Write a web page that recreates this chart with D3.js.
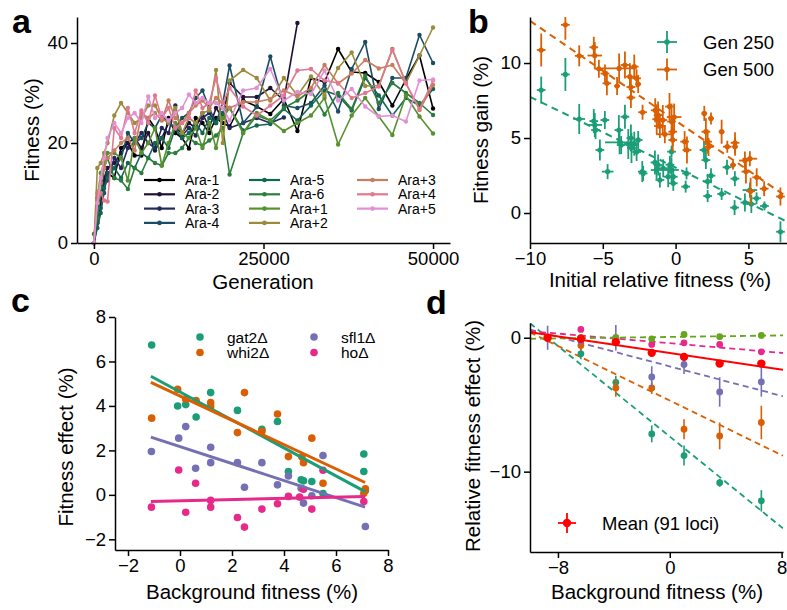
<!DOCTYPE html>
<html>
<head>
<meta charset="utf-8">
<script src="https://cdn.jsdelivr.net/npm/d3@7"></script>
<style>
  body { margin: 0; background: #fff; }
  text { font-family: "Liberation Sans", Arial, sans-serif; }
</style>
</head>
<body>
<script>
// ---- panel a: LTEE fitness trajectories ----
const generations = [0, 500, 1000, 1500, 2000, 3000, 4000, 5000, 6000, 7000, 8000, 9000, 10000,
  11000, 12000, 13000, 14000, 15000, 16000, 17000, 18000, 19000, 20000, 22000, 24000, 26000,
  28000, 30000, 32000, 34000, 36000, 38000, 40000, 42000, 44000, 46000, 48000, 50000];
const popNames = ["Ara-1", "Ara-2", "Ara-3", "Ara-4", "Ara-5", "Ara-6", "Ara+1", "Ara+2", "Ara+3", "Ara+4", "Ara+5"];
const popColors = ["#000000", "#1f1236", "#22295b", "#1b4d62", "#136554", "#2a7d3c", "#56912f", "#9a8b3d", "#c77d5e", "#e1788f", "#e290d6"];
const araM1 = [0,4,8,12,14,13,19,20,17.5,17.5,25,23,19,25,22,21,18.9,25,24,22,25,24,23.3,28.5,27.3,25.8,28.8,22.4,33,32.2,38.8,34.2,34,32.2,27.5,32.7,37.5,26.9];
const araM2 = [0,5,9,13,15,16,18,20,21,19,22,18.5,21,24,23,22,24,23,26,23,27,25,32,29.2,29.2,31,28.5,44];
const araM3 = [0,6,10,12,12.5,17,15,19,20,22,20,19,23,22,27.5,21.5,23,21.5,25,26,24,26,23,24,25,24,25.1];
const araM4 = [0,4,7,10,14,15,17,22,20,21,24,23,25.5,24,23,25,26,29,30.5,27,24,28,35.5,24,27.2,37.3,27.5,27,28,31.5,26.3,34.8,40.2,26.8,33,33,41.6,36];
const araM5 = [0,3,6,11,13,15,13,16,15,18,17,20,21,19,23,21,22,24,22,25,24,26,27,22.5,23.5,23.8,26.8,24.5,27.5,30.5,29.5,26.5,33,29.5,25.5,29,27.5,30.8];
const araM6 = [1.8,5,10,15,17,13,12.5,10.8,15,14,17,16,15.5,18,18,19,21,20,19.5,20.5,21.5,23,13.7,22,25.5,24.5,27,28.5,30.5,25.7,30,26.8,33.5,28,32,30,28,25.6];
const araP1 = [0,9,14,16,18,18,17,12.5,21,18,20,23,15.5,20,24,22,21,23,19,24,19,25,27,22,26,24.5,22.4,24,25.5,29,19.7,25.5,29,25.3,21.6,29.5,25.3,21.9];
const araP2 = [0,15,16,18,20,25.5,28,26,24,25,27.5,27.5,25,24,27,22,25,24,26,26.5,34.6,20,32.5,34.6,33,28.5,33,29.5,33.3,29.5,35,38.1,31.4,31.5,38.8,32,37.5,43.1];
const araP3 = [0,10,12,15,17,18.5,20,21,18.5,26,25,26,24.5,28.5,25,24,26,27.5,28.5,27,29,28,27,28.2,28.2,28.8,30.5,29.3,31,35.6,31.9,33.9,36.6,34.9,35.6,31.9,26.6,31.6];
const araP4 = [0,8,10,8.5,8.3,23,21,27,22,26.5,24,29.5,25,27,23,24,25,30.5,27,28,33,28,31,27.3,25.5,27.5,29.5,34.5,34.8,32.5,32,29,30,31.3,38.6,32,26.8,32.5];
const araP5 = [0,8,13,17,21,24,22,25,26,24,29.3,25,26,24.5,26,27,29.7,28,29,28,28,27,24.5,30.5,31,34.8,28.5,30.2,29.8,34.5,28.5,30.8,27.3,25.3,25.5,24.3,32.5,32.7];
const popFitness = [araM1, araM2, araM3, araM4, araM5, araM6, araP1, araP2, araP3, araP4, araP5];

// ---- panel b: fitness gain vs initial fitness [x, y, xerr, yerr] ----
const gen250 = [[-9.23,8.2,0.3,0.9],[-7.57,9.24,0.3,1.1],[-6.62,6.27,0.4,1.0],[-5.62,6.13,0.3,0.8],[-5.55,5.87,0.5,0.8],
  [-5.5,5.53,0.3,0.6],[-5.2,4.2,0.3,0.7],[-4.86,6.2,0.3,0.6],[-4.67,2.76,0.4,0.5],[-3.9,5.53,0.3,1.0],[-3.85,4.71,1.0,0.8],
  [-3.74,4.53,0.3,0.6],[-3.48,6.42,0.3,0.8],[-3.25,4.6,0.3,1.0],[-3.07,5.0,0.3,0.9],[-3.03,4.33,0.3,1.0],[-2.84,4.62,0.3,0.8],
  [-2.68,4.07,0.3,0.6],[-2.57,4.87,0.3,0.6],[-2.29,2.76,0.3,0.7],[-2.23,2.64,0.3,0.5],[-1.42,3.37,0.3,0.8],[-1.31,2.87,0.4,0.6],
  [-1.2,3.2,0.3,0.7],[-1.08,2.2,0.3,0.5],[-0.85,2.98,0.3,0.6],[-0.51,2.42,0.3,0.7],[-0.39,3.22,0.3,0.6],[-0.28,2.87,0.5,0.8],
  [-0.28,4.09,0.3,0.4],[-0.16,2.42,0.3,0.6],[-0.16,1.98,0.3,0.5],[0.69,1.76,0.3,0.4],[0.75,2.64,0.3,0.4],[1.95,4.2,0.3,0.6],
  [2.08,3.53,0.3,0.6],[2.2,1.13,0.3,0.4],[2.2,2.11,0.3,0.5],[2.43,2.49,0.3,0.5],[3.16,1.27,0.3,0.4],[3.53,3.05,0.3,0.5],
  [4.07,2.29,0.3,0.5],[4.05,0.36,0.3,0.5],[4.76,0.7,0.3,0.6],[5.1,1.53,0.5,0.5],[5.2,0.6,0.3,0.6],[5.56,0.98,0.3,0.4],
  [6.1,0.47,0.3,0.3],[7.2,-1.25,0.3,0.7]];
const gen500 = [[-9.23,10.87,0.3,1.1],[-7.57,12.55,0.3,1.0],[-6.62,10.48,0.3,0.7],[-5.62,11.05,0.3,0.7],[-5.55,10.5,0.5,0.9],
  [-5.27,9.62,0.3,0.6],[-4.85,9.3,0.3,0.6],[-4.72,8.65,0.3,0.8],[-4.02,8.47,0.2,0.6],[-3.88,9.64,1.2,1.0],[-3.48,9.87,0.3,0.9],
  [-3.14,9.09,0.3,0.9],[-3.07,8.4,0.3,0.8],[-3.07,7.7,0.3,0.7],[-2.84,9.76,0.3,0.8],[-2.68,8.98,0.3,0.6],[-2.57,8.6,0.2,0.6],
  [-2.27,6.72,0.3,0.5],[-1.4,6.85,0.3,0.8],[-1.3,6.25,0.3,1.0],[-1.2,6.53,0.3,0.9],[-1.08,5.8,0.4,0.8],[-0.88,6.2,0.3,1.0],
  [-0.74,5.25,0.6,0.6],[-0.42,7.1,0.3,0.9],[-0.28,6.1,0.3,1.2],[-0.2,5.42,0.3,1.0],[-0.2,4.87,0.3,0.8],[-0.1,6.4,0.5,0.9],
  [0.62,4.76,0.3,0.7],[0.78,4.2,0.3,0.9],[1.97,6.64,0.2,0.5],[2.08,5.42,0.3,0.9],[2.2,4.76,0.3,0.8],[2.26,4.4,0.3,0.6],
  [2.43,6.31,0.2,0.4],[3.16,5.42,0.2,0.8],[3.55,4.42,0.3,0.4],[3.94,3.2,0.2,0.3],[4.08,4.68,0.3,0.7],[4.08,4.42,0.2,0.6],
  [4.76,3.5,0.4,0.6],[4.83,2.76,0.3,0.8],[5.1,3.62,0.5,0.5],[5.15,1.45,0.3,0.9],[5.57,2.38,0.3,0.6],[6.08,1.62,0.3,0.5],
  [7.2,1.1,0.3,0.6]];
const genNames = ["Gen 250", "Gen 500"];
const genColors = ["#1b9e77", "#d95f02"];
const genFits = [[3.03, -0.472], [6.16, -0.665]]; // intercept, slope

// ---- panel c: deletion effects vs background fitness ----
const geneNames = ["gat2Δ", "whi2Δ", "sfl1Δ", "hoΔ"];
const geneColors = ["#1b9e77", "#d95f02", "#7570b3", "#e7298a"];
const gat2 = [[-1.09,6.74],[-0.09,4.0],[0.22,4.06],[0.62,3.5],[1.18,4.6],[2.21,3.8],[3.15,2.95],[3.75,3.3],[4.17,1.05],
  [4.66,0.68],[4.75,0.63],[5.07,0.6],[5.5,0.06],[7.07,1.84],[7.07,1.05],[7.13,0.2]];
const whi2 = [[-1.09,3.45],[-0.09,4.75],[0.22,4.31],[0.62,4.24],[1.18,4.15],[1.18,3.97],[2.21,2.8],[2.48,4.6],[3.15,2.86],
  [3.75,3.64],[4.17,1.72],[4.69,1.7],[4.75,1.45],[5.07,2.55],[5.5,0.52],[7.13,0.27],[7.07,0.07]];
const sfl1 = [[-1.1,1.95],[-0.05,2.55],[0.22,3.07],[0.6,1.2],[1.18,2.14],[1.18,1.45],[2.21,1.45],[2.48,0.34],[3.15,1.45],
  [3.75,0.45],[4.17,0.85],[4.66,0.3],[4.75,-0.37],[5.07,-0.04],[5.5,1.77],[7.13,-1.42]];
const ho = [[-1.1,-0.55],[-0.05,1.12],[0.22,-0.78],[0.6,0.52],[1.18,-0.25],[1.18,-0.55],[2.21,-1.02],[2.48,-1.45],[3.15,-0.64],
  [3.75,-0.4],[4.17,-0.07],[4.6,-0.1],[4.75,0.25],[5.07,-0.64],[5.5,1.11],[7.07,-0.3]];
const genePoints = [gat2, whi2, sfl1, ho];
const geneFits = [[4.63, -0.63], [4.45, -0.547], [2.17, -0.382], [-0.27, 0.028]];
const geneRange = [-1.12, 7.12];

// ---- panel d: relative fitness effect across backgrounds ----
const backgrounds = [-8.74, -6.36, -3.86, -1.29, 1.02, 3.57, 6.55];
const lociColors = ["#1b9e77", "#d95f02", "#7570b3", "#e7298a", "#66a61e"];
const lociEffects = [
  [0, -1.2, -3.33, -7.18, -8.8, -10.83, -12.18],
  [0, -0.58, -3.75, -3.75, -6.83, -7.33, -6.33],
  [0, -0.25, 0, -2.93, -2.0, -4.05, -3.3],
  [0, 0.62, -0.1, -0.5, -0.38, -0.5, -1.05],
  [0, 0, 0, -0.08, 0.25, 0.08, 0.17]
];
const lociErrors = [
  [0.3, 0.4, 0.5, 0.63, 0.75, 0.3, 0.8],
  [0.3, 0.4, 0.65, 0.45, 0.75, 1.0, 1.25],
  [0.9, 0.3, 0.95, 0.8, 0.7, 1.1, 1.1],
  [0.2, 0.2, 0.2, 0.2, 0.2, 0.2, 0.2],
  [0.1, 0.1, 0.1, 0.1, 0.1, 0.1, 0.1]
];
const lociFits = [[-7.38, -0.846], [-4.69, -0.509], [-2.14, -0.275], [-0.41, -0.09], [0.06, 0.014]];
const meanEffect = [0, -0.08, -0.33, -1.13, -1.43, -1.93, -1.93];
const meanFit = [-1.14, -0.155];
const meanLabel = "Mean (91 loci)";

// ---------------------------------------------------------------
const W = 787, H = 610;
const svg = d3.select("body").append("svg")
  .attr("width", W)
  .attr("height", H);

const tickFont = 18.5, titleFont = 20.5;

const drawAxes = (x, y, xTicks, yTicks, xFmt, yFmt) => {
  const gx = svg.append("g")
    .attr("transform", `translate(0,${y.range()[0]})`)
    .call(d3.axisBottom(x).tickValues(xTicks).tickFormat(xFmt).tickSizeOuter(0));
  const gy = svg.append("g")
    .attr("transform", `translate(${x.range()[0]},0)`)
    .call(d3.axisLeft(y).tickValues(yTicks).tickFormat(yFmt).tickSizeOuter(0));
  [gx, gy].forEach(g => {
    g.attr("font-size", tickFont).attr("font-family", null);
    g.selectAll("path, line").attr("stroke-width", 1.5);
  });
};

const xTitle = (text, cx, by) => svg.append("text")
  .attr("x", cx).attr("y", by)
  .attr("text-anchor", "middle")
  .attr("font-size", titleFont)
  .text(text);

const yTitle = (text, bx, cy) => svg.append("text")
  .attr("transform", `translate(${bx},${cy}) rotate(-90)`)
  .attr("text-anchor", "middle")
  .attr("font-size", titleFont)
  .text(text);

const panelLetter = (text, px, py) => svg.append("text")
  .attr("x", px).attr("y", py)
  .attr("font-size", 34)
  .attr("font-weight", "bold")
  .text(text);

const clip = (id, x, y) => svg.append("clipPath")
    .attr("id", id)
  .append("rect")
    .attr("x", x.range()[0])
    .attr("y", y.range()[1])
    .attr("width", x.range()[1] - x.range()[0])
    .attr("height", y.range()[0] - y.range()[1]);

const fmtPlain = d3.format("d");

// ---- panel a ----
{
  const x = d3.scaleLinear().domain([-2500, 52500]).range([77, 450]);
  const y = d3.scaleLinear().domain([0, 45.2]).range([243, 17]);

  const line = d3.line()
    .x(d => x(d[0]))
    .y(d => y(d[1]));

  popFitness.forEach((vals, i) => {
    const pts = vals.map((v, j) => [generations[j], v]);
    const g = svg.append("g");
    g.append("path")
      .datum(pts)
      .attr("fill", "none")
      .attr("stroke", popColors[i])
      .attr("stroke-width", 1.6)
      .attr("stroke-linejoin", "round")
      .attr("d", line);
    g.selectAll("circle")
      .data(pts)
      .join("circle")
      .attr("cx", d => x(d[0]))
      .attr("cy", d => y(d[1]))
      .attr("r", 2.2)
      .attr("fill", popColors[i]);
  });

  drawAxes(x, y, [0, 25000, 50000], [0, 20, 40], fmtPlain, fmtPlain);
  xTitle("Generation", 263, 289);
  yTitle("Fitness (%)", 39, 130);
  panelLetter("a", 12, 33);

  // legend: 3 columns
  const colX = [144, 249, 357];
  const rowsPerCol = 4;
  const leg = svg.append("g").attr("font-size", 14);
  popNames.forEach((name, i) => {
    const cx = colX[Math.floor(i / rowsPerCol)];
    const cy = 180 + (i % rowsPerCol) * 14.3;
    leg.append("line")
      .attr("x1", cx).attr("x2", cx + 31)
      .attr("y1", cy).attr("y2", cy)
      .attr("stroke", popColors[i])
      .attr("stroke-width", 2.2);
    leg.append("circle")
      .attr("cx", cx + 15.5).attr("cy", cy)
      .attr("r", 2.3)
      .attr("fill", popColors[i]);
    leg.append("text")
      .attr("x", cx + 41).attr("y", cy + 5)
      .text(name);
  });
}

// ---- panel b ----
{
  const x = d3.scaleLinear().domain([-10, 7.65]).range([530, 787]);
  const y = d3.scaleLinear().domain([-2, 13.07]).range([243, 17]);
  clip("clipB", x, y);

  [gen250, gen500].forEach((pts, i) => {
    const g = svg.append("g").attr("clip-path", "url(#clipB)");
    const [a, b] = genFits[i];
    g.append("line")
      .attr("x1", x(-10)).attr("y1", y(a + b * -10))
      .attr("x2", x(7.65)).attr("y2", y(a + b * 7.65))
      .attr("stroke", genColors[i])
      .attr("stroke-width", 2)
      .attr("stroke-dasharray", "7,5");
  });

  [gen250, gen500].forEach((pts, i) => {
    const g = svg.append("g").attr("clip-path", "url(#clipB)");
    g.selectAll(".v")
      .data(pts)
      .join("line")
      .attr("x1", d => x(d[0])).attr("x2", d => x(d[0]))
      .attr("y1", d => y(d[1] - d[3])).attr("y2", d => y(d[1] + d[3]))
      .attr("stroke", genColors[i])
      .attr("stroke-width", 1.8);
    g.selectAll(".h")
      .data(pts)
      .join("line")
      .attr("x1", d => x(d[0] - d[2])).attr("x2", d => x(d[0] + d[2]))
      .attr("y1", d => y(d[1])).attr("y2", d => y(d[1]))
      .attr("stroke", genColors[i])
      .attr("stroke-width", 1.8);
    g.selectAll("circle")
      .data(pts)
      .join("circle")
      .attr("cx", d => x(d[0]))
      .attr("cy", d => y(d[1]))
      .attr("r", 2.6)
      .attr("fill", genColors[i]);
  });

  drawAxes(x, y, [-10, -5, 0, 5], [0, 5, 10], fmtPlain, fmtPlain);
  xTitle("Initial relative fitness (%)", 660, 287);
  yTitle("Fitness gain (%)", 488, 130);
  panelLetter("b", 468, 33);

  genNames.forEach((name, i) => {
    const cx = 667, cy = 42 + i * 27.5;
    svg.append("line")
      .attr("x1", cx - 10).attr("x2", cx + 10).attr("y1", cy).attr("y2", cy)
      .attr("stroke", genColors[i]).attr("stroke-width", 1.8);
    svg.append("line")
      .attr("x1", cx).attr("x2", cx).attr("y1", cy - 11).attr("y2", cy + 11)
      .attr("stroke", genColors[i]).attr("stroke-width", 1.8);
    svg.append("circle")
      .attr("cx", cx).attr("cy", cy).attr("r", 2.8)
      .attr("fill", genColors[i]);
    svg.append("text")
      .attr("x", 703).attr("y", cy + 6.5)
      .attr("font-size", 18.5)
      .text(name);
  });
}

// ---- panel c ----
{
  const x = d3.scaleLinear().domain([-2.5, 8]).range([115, 388]);
  const y = d3.scaleLinear().domain([-2.48, 8]).range([550, 317]);

  genePoints.forEach((pts, i) => {
    svg.append("g")
      .selectAll("circle")
      .data(pts)
      .join("circle")
      .attr("cx", d => x(d[0]))
      .attr("cy", d => y(d[1]))
      .attr("r", 3.8)
      .attr("fill", geneColors[i]);
  });

  geneFits.forEach(([a, b], i) => {
    svg.append("line")
      .attr("x1", x(geneRange[0])).attr("y1", y(a + b * geneRange[0]))
      .attr("x2", x(geneRange[1])).attr("y2", y(a + b * geneRange[1]))
      .attr("stroke", geneColors[i])
      .attr("stroke-width", 3);
  });

  drawAxes(x, y, [-2, 0, 2, 4, 6, 8], [-2, 0, 2, 4, 6, 8], fmtPlain, fmtPlain);
  xTitle("Background fitness (%)", 252, 599);
  yTitle("Fitness effect (%)", 73, 447);
  panelLetter("c", 11, 312);

  geneNames.forEach((name, i) => {
    const cx = [200, 314][Math.floor(i / 2)];
    const cy = 337 + (i % 2) * 15.5;
    svg.append("circle")
      .attr("cx", cx).attr("cy", cy).attr("r", 3.8)
      .attr("fill", geneColors[i]);
    svg.append("text")
      .attr("x", cx + 27).attr("y", cy + 5.5)
      .attr("font-size", 15.5)
      .text(name);
  });
}

// ---- panel d ----
{
  const x = d3.scaleLinear().domain([-10, 8.1]).range([530, 783]);
  const y = d3.scaleLinear().domain([-16, 1.1]).range([552, 323]);
  clip("clipD", x, y);
  const xs = [-10, 8.1];

  const gl = svg.append("g").attr("clip-path", "url(#clipD)");
  lociFits.forEach(([a, b], i) => {
    gl.append("line")
      .attr("x1", x(xs[0])).attr("y1", y(a + b * xs[0]))
      .attr("x2", x(xs[1])).attr("y2", y(a + b * xs[1]))
      .attr("stroke", lociColors[i])
      .attr("stroke-width", 1.8)
      .attr("stroke-dasharray", "6,4");
  });

  lociEffects.forEach((vals, i) => {
    const pts = vals.map((v, j) => [backgrounds[j], v, lociErrors[i][j]]);
    const g = svg.append("g");
    g.selectAll("line")
      .data(pts)
      .join("line")
      .attr("x1", d => x(d[0])).attr("x2", d => x(d[0]))
      .attr("y1", d => y(d[1] - d[2])).attr("y2", d => y(d[1] + d[2]))
      .attr("stroke", lociColors[i])
      .attr("stroke-width", 1.6);
    g.selectAll("circle")
      .data(pts)
      .join("circle")
      .attr("cx", d => x(d[0]))
      .attr("cy", d => y(d[1]))
      .attr("r", 3.4)
      .attr("fill", lociColors[i]);
  });

  const [ma, mb] = meanFit;
  gl.append("line")
    .attr("x1", x(xs[0])).attr("y1", y(ma + mb * xs[0]))
    .attr("x2", x(xs[1])).attr("y2", y(ma + mb * xs[1]))
    .attr("stroke", "#ff0000")
    .attr("stroke-width", 2);
  svg.append("g")
    .selectAll("circle")
    .data(meanEffect.map((v, j) => [backgrounds[j], v]))
    .join("circle")
    .attr("cx", d => x(d[0]))
    .attr("cy", d => y(d[1]))
    .attr("r", 4.2)
    .attr("fill", "#ff0000");

  drawAxes(x, y, [-8, 0, 8], [-10, 0], d3.format("d"), d3.format("d"));
  xTitle("Background fitness (%)", 657, 599);
  yTitle("Relative fitness effect (%)", 480, 436);
  panelLetter("d", 426, 314);

  const lx = 567, ly = 523;
  svg.append("line")
    .attr("x1", lx - 9).attr("x2", lx + 9).attr("y1", ly).attr("y2", ly)
    .attr("stroke", "#ff0000").attr("stroke-width", 1.8);
  svg.append("line")
    .attr("x1", lx).attr("x2", lx).attr("y1", ly - 10).attr("y2", ly + 10)
    .attr("stroke", "#ff0000").attr("stroke-width", 1.8);
  svg.append("circle")
    .attr("cx", lx).attr("cy", ly).attr("r", 4.2)
    .attr("fill", "#ff0000");
  svg.append("text")
    .attr("x", 602).attr("y", ly + 6.5)
    .attr("font-size", 18.5)
    .text(meanLabel);
}
</script>
</body>
</html>
